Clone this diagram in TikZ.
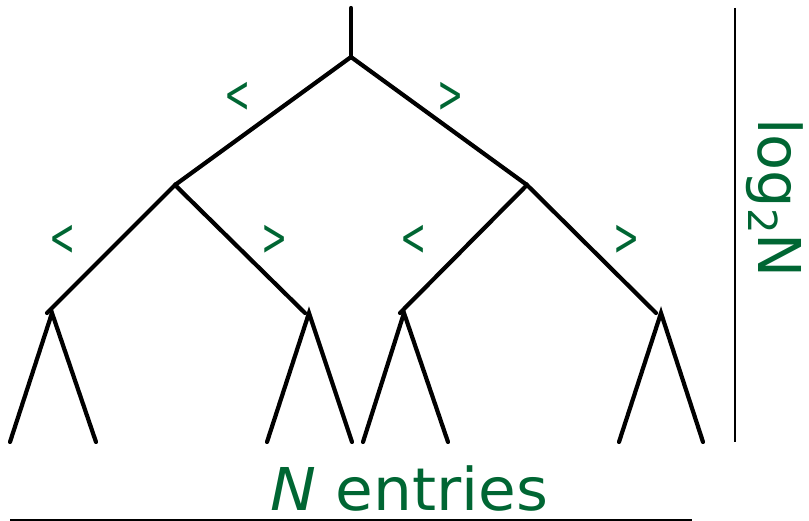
\documentclass[tikz,border=0pt]{standalone}
\usepackage{fontspec}
\setmainfont{DejaVu Sans}
\definecolor{lblgreen}{RGB}{0,102,51}
\begin{document}
\begin{tikzpicture}[x=1pt,y=-1pt,
  edge/.style={line width=4.2pt,line cap=round},
  rule/.style={line width=2pt},
  cmp/.style={text=lblgreen,inner sep=0pt,font=\fontsize{40}{40}\selectfont,xscale=0.78,yscale=1.3},
  big/.style={text=lblgreen,inner sep=0pt,font=\fontsize{59}{59}\selectfont}]
\useasboundingbox (0,0) rectangle (809,521);
% tree points
\coordinate (top) at (351,8);
\coordinate (root) at (351,57);
\coordinate (L) at (175,185);
\coordinate (R) at (527,185);
\coordinate (LL) at (47,313);
\coordinate (LR) at (305,313);
\coordinate (RL) at (400,313);
\coordinate (RR) at (656,313);
% subtree apexes and feet
\coordinate (a1) at (52,313);  \coordinate (a1l) at (10,442);  \coordinate (a1r) at (96,442);
\coordinate (a2) at (309,313); \coordinate (a2l) at (267,442); \coordinate (a2r) at (352,442);
\coordinate (a3) at (404,313); \coordinate (a3l) at (363,442); \coordinate (a3r) at (448,442);
\coordinate (a4) at (661,313); \coordinate (a4l) at (619,442); \coordinate (a4r) at (703,442);
\draw[edge] (top) -- (root);
\draw[edge] (L) -- (root) -- (R);
\draw[edge] (LL) -- (L) -- (LR);
\draw[edge] (RL) -- (R) -- (RR);
\draw[edge] (a1l) -- (a1) -- (a1r);
\draw[edge] (a2l) -- (a2) -- (a2r);
\draw[edge] (a3l) -- (a3) -- (a3r);
\draw[edge] (a4l) -- (a4) -- (a4r);
% comparison labels
\node[cmp] (c1) at (238,97) {<};
\node[cmp] (c2) at (451,97) {>};
\node[cmp] (c3) at (63,240) {<};
\node[cmp] (c4) at (275,240) {>};
\node[cmp] (c5) at (414,240) {<};
\node[cmp] (c6) at (627,240) {>};
% height rule
\coordinate (vt) at (735,8);
\coordinate (vb) at (735,442);
\draw[rule] (vt) -- (vb);
\node[big,rotate=-90,anchor=base west] (logn) at (758,118) {log\raisebox{-0.3ex}{\fontsize{40}{40}\selectfont 2}N};
% width rule
\coordinate (hl) at (10,520);
\coordinate (hr) at (692,520);
\draw[rule] (hl) -- (hr);
\node[big,anchor=base west,xscale=1.04] (nent) at (270,510) {\textit{N} entries};
\end{tikzpicture}
\end{document}
